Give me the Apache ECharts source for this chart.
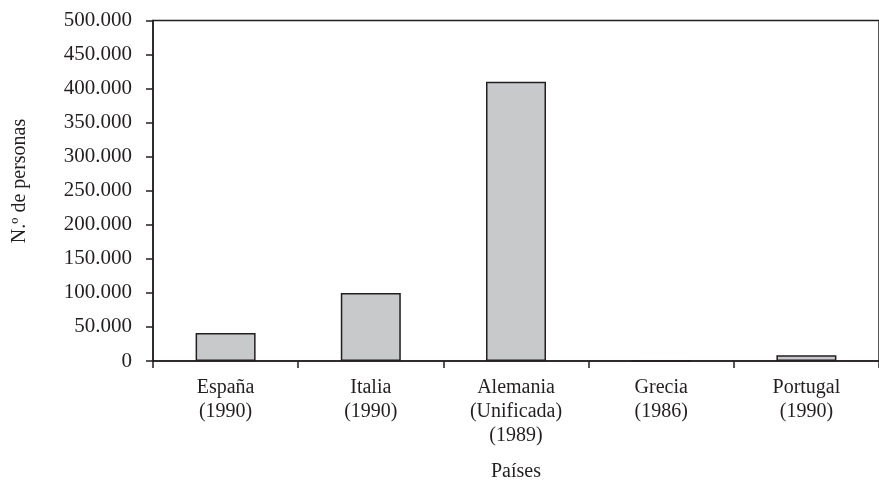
<!DOCTYPE html>
<html>
<head>
<meta charset="utf-8">
<script src="https://cdn.jsdelivr.net/npm/echarts@6/dist/echarts.min.js"></script>
<style>
  html, body { margin: 0; padding: 0; background: #fff; }
  #main { width: 879px; height: 487px; }
</style>
</head>
<body>
<div id="main"></div>
<script>
// datos
var paises = ['España', 'Italia', 'Alemania\n(Unificada)', 'Grecia', 'Portugal'];
var anios = ['1990', '1990', '1989', '1986', '1990'];
var personas = [41000, 100000, 410000, 0, 8300];

var etiquetas = paises.map(function (p, i) { return p + '\n(' + anios[i] + ')'; });

function miles(v) {
    return String(v).replace(/\B(?=(\d{3})+(?!\d))/g, '.');
}

var fuente = 'Liberation Serif';
var tinta = '#231f20';

var myChart = echarts.init(document.getElementById('main'));
var option = {
    backgroundColor: '#fff',
    animation: false,
    textStyle: { fontFamily: fuente },
    grid: {
        show: true,
        left: 153,
        top: 20.5,
        width: 732,
        bottom: 125,
        borderColor: tinta,
        borderWidth: 1.5,
        backgroundColor: 'transparent'
    },
    xAxis: {
        type: 'category',
        data: etiquetas,
        name: 'Países',
        nameLocation: 'middle',
        nameGap: 101,
        nameTextStyle: { color: tinta, fontSize: 20, fontFamily: fuente },
        axisLine: { lineStyle: { color: tinta, width: 1.5 } },
        axisTick: { show: true, length: 7, lineStyle: { color: tinta, width: 1.5 } },
        axisLabel: {
            color: tinta,
            fontSize: 20,
            fontFamily: fuente,
            lineHeight: 24,
            margin: 15
        }
    },
    yAxis: {
        type: 'value',
        min: 0,
        max: 500000,
        interval: 50000,
        splitLine: { show: false },
        axisLine: { show: true, lineStyle: { color: tinta, width: 1.5 } },
        axisTick: { show: true, length: 7, lineStyle: { color: tinta, width: 1.5 } },
        axisLabel: {
            color: tinta,
            fontSize: 21,
            fontFamily: fuente,
            margin: 21,
            formatter: miles
        }
    },
    graphic: [{
        type: 'text',
        x: 20,
        y: 181,
        rotation: Math.PI / 2,
        style: {
            text: 'N.º de personas',
            fill: tinta,
            font: '20px "Liberation Serif"',
            textAlign: 'center',
            textVerticalAlign: 'middle'
        }
    }],
    series: [{
        type: 'bar',
        data: personas,
        barWidth: 60,
        itemStyle: {
            color: '#c8c9cb',
            borderColor: tinta,
            borderWidth: 1.5
        }
    }]
};
myChart.setOption(option);
</script>
</body>
</html>
